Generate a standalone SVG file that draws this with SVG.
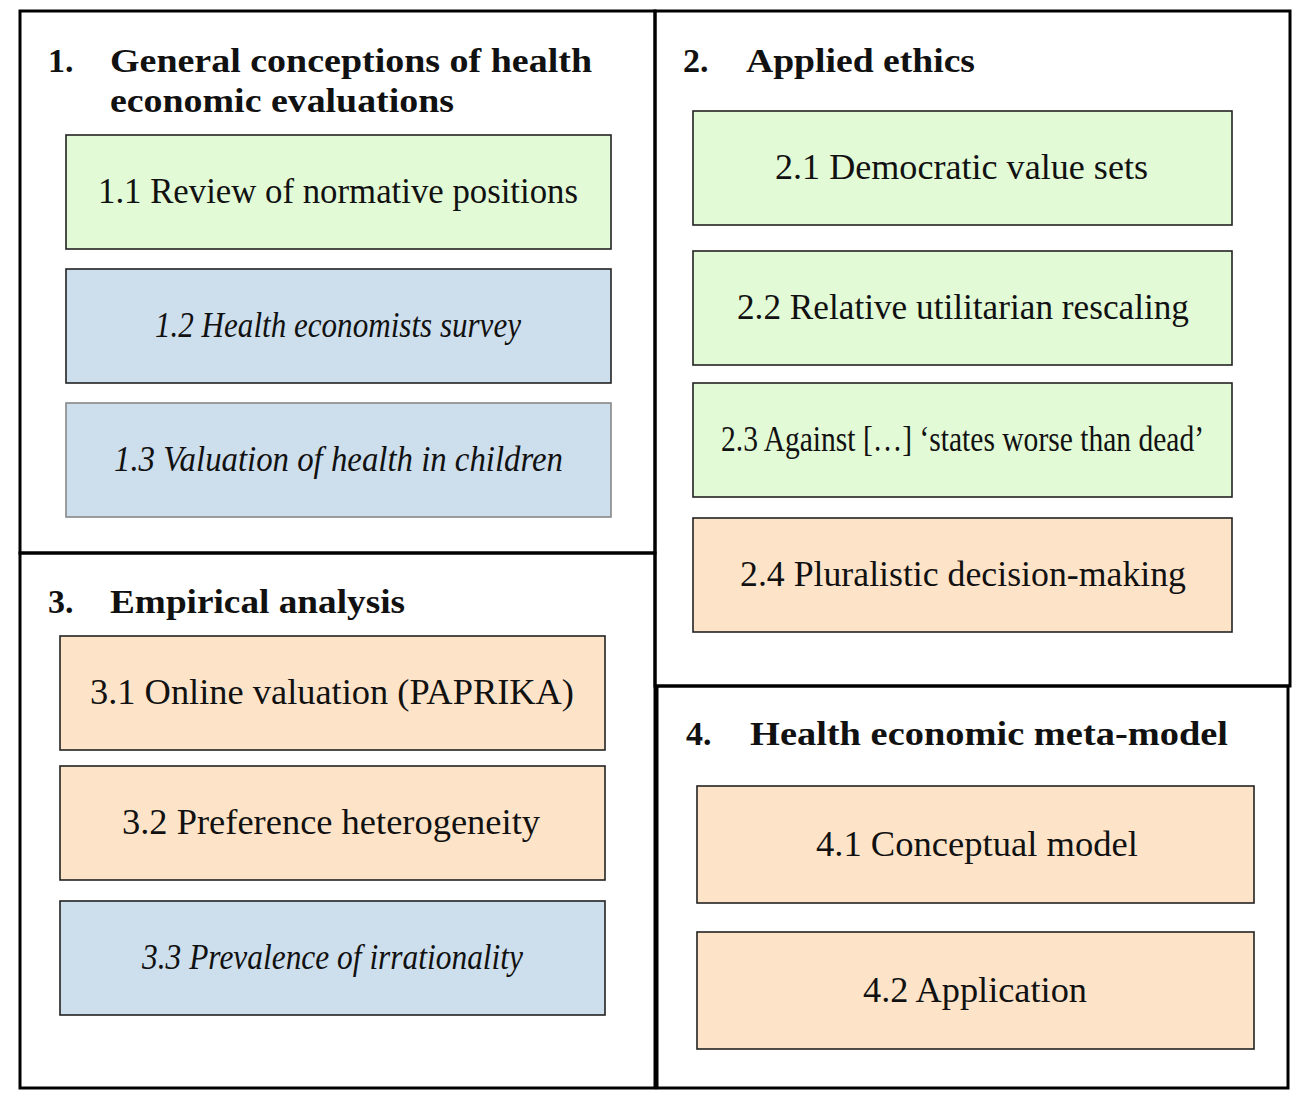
<svg xmlns="http://www.w3.org/2000/svg" width="1306" height="1108" viewBox="0 0 1306 1108">
<style>
.panel{fill:none;stroke:#000;stroke-width:3}
.box{stroke:#222;stroke-width:1.6}
.g{fill:#e2fad6}
.b{fill:#cddeec}
.p{fill:#fde4c9}
.t{font-family:"Liberation Serif","Times New Roman",serif;font-size:35px;fill:#111}
.h{font-family:"Liberation Serif","Times New Roman",serif;font-size:34px;font-weight:bold;fill:#111}
.i{font-style:italic}
</style>
<rect width="1306" height="1108" fill="#fff"/>
<g id="panel1">
<rect class="panel" x="20" y="11" width="635" height="542"/>
<text class="h" x="48" y="72">1.</text>
<text class="h" x="110" y="72" textLength="482" lengthAdjust="spacingAndGlyphs">General conceptions of health</text>
<text class="h" x="110" y="112" textLength="344" lengthAdjust="spacingAndGlyphs">economic evaluations</text>
</g>
<g id="panel2">
<rect class="panel" x="655" y="11" width="635" height="675"/>
<text class="h" x="683" y="72">2.</text>
<text class="h" x="746" y="72" textLength="229" lengthAdjust="spacingAndGlyphs">Applied ethics</text>
</g>
<g id="panel3">
<rect class="panel" x="20" y="553" width="635" height="535"/>
<text class="h" x="48" y="613">3.</text>
<text class="h" x="110" y="613" textLength="295" lengthAdjust="spacingAndGlyphs">Empirical analysis</text>
</g>
<g id="panel4">
<rect class="panel" x="657" y="686" width="631" height="402"/>
<text class="h" x="686" y="745">4.</text>
<text class="h" x="750" y="745" textLength="478" lengthAdjust="spacingAndGlyphs">Health economic meta-model</text>
</g>
<g id="n11"><rect class="box g" x="66" y="135" width="545" height="114"/>
<text class="t" x="98" y="203" textLength="480" lengthAdjust="spacingAndGlyphs">1.1 Review of normative positions</text></g>
<g id="n12"><rect class="box b" x="66" y="269" width="545" height="114"/>
<text class="t i" x="155" y="337" textLength="366" lengthAdjust="spacingAndGlyphs">1.2 Health economists survey</text></g>
<g id="n13"><rect class="box b" x="66" y="403" width="545" height="114" style="stroke:#888"/>
<text class="t i" x="114" y="471" textLength="449" lengthAdjust="spacingAndGlyphs">1.3 Valuation of health in children</text></g>
<g id="n21"><rect class="box g" x="693" y="111" width="539" height="114"/>
<text class="t" x="775" y="179" textLength="373" lengthAdjust="spacingAndGlyphs">2.1 Democratic value sets</text></g>
<g id="n22"><rect class="box g" x="693" y="251" width="539" height="114"/>
<text class="t" x="737" y="319" textLength="452" lengthAdjust="spacingAndGlyphs">2.2 Relative utilitarian rescaling</text></g>
<g id="n23"><rect class="box g" x="693" y="383" width="539" height="114"/>
<text class="t" x="721" y="451" textLength="483" lengthAdjust="spacingAndGlyphs">2.3 Against […] ‘states worse than dead’</text></g>
<g id="n24"><rect class="box p" x="693" y="518" width="539" height="114"/>
<text class="t" x="740" y="586" textLength="446" lengthAdjust="spacingAndGlyphs">2.4 Pluralistic decision-making</text></g>
<g id="n31"><rect class="box p" x="60" y="636" width="545" height="114"/>
<text class="t" x="90" y="704" textLength="484" lengthAdjust="spacingAndGlyphs">3.1 Online valuation (PAPRIKA)</text></g>
<g id="n32"><rect class="box p" x="60" y="766" width="545" height="114"/>
<text class="t" x="122" y="834" textLength="418" lengthAdjust="spacingAndGlyphs">3.2 Preference heterogeneity</text></g>
<g id="n33"><rect class="box b" x="60" y="901" width="545" height="114"/>
<text class="t i" x="142" y="969" textLength="381" lengthAdjust="spacingAndGlyphs">3.3 Prevalence of irrationality</text></g>
<g id="n41"><rect class="box p" x="697" y="786" width="557" height="117"/>
<text class="t" x="816" y="856" textLength="322" lengthAdjust="spacingAndGlyphs">4.1 Conceptual model</text></g>
<g id="n42"><rect class="box p" x="697" y="932" width="557" height="117"/>
<text class="t" x="863" y="1002" textLength="224" lengthAdjust="spacingAndGlyphs">4.2 Application</text></g>
<g id="connectors"></g>
</svg>
